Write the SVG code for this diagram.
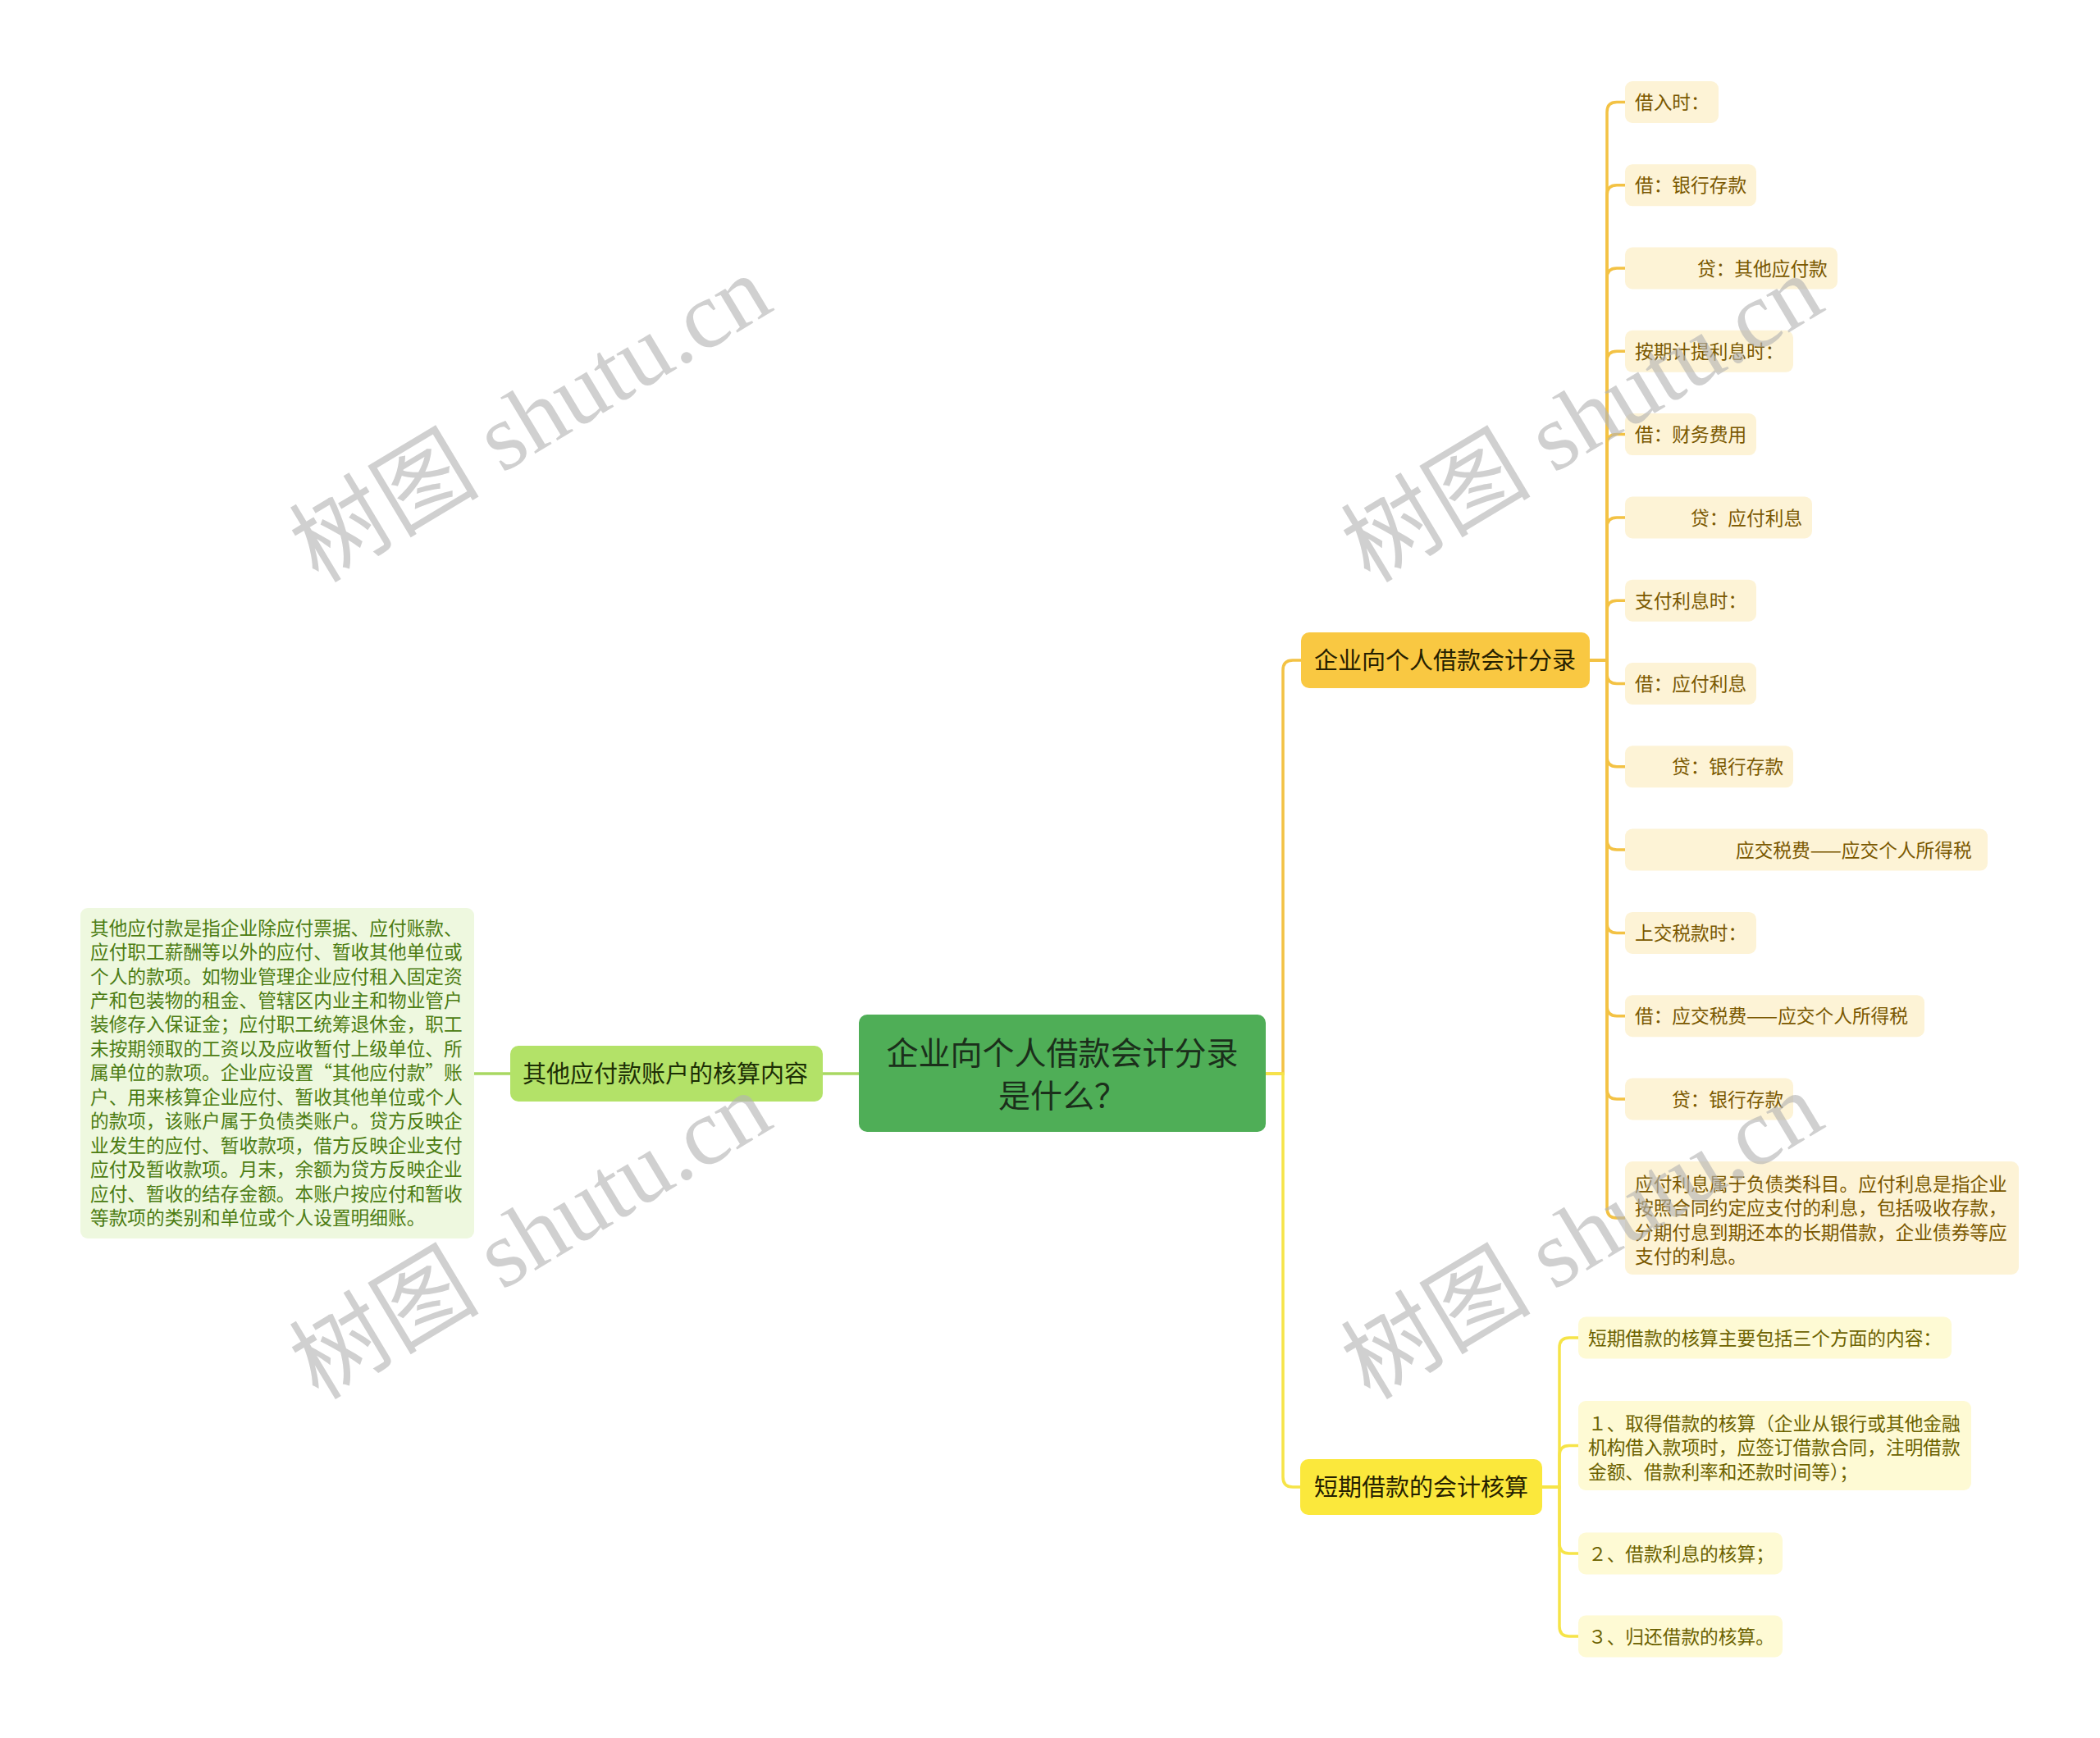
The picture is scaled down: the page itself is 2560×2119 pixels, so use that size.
<svg xmlns="http://www.w3.org/2000/svg" width="2560" height="2119" viewBox="0 0 2560 2119">
<style>
text{font-family:"Noto Sans CJK SC","Noto Sans",sans-serif;}
.root{fill:#4fae57;}
.b1{fill:#f9c842;}
.b2{fill:#fbe83c;}
.bl{fill:#b3e268;}
.c1{fill:#fdf3d6;}
.c2{fill:#fefad4;}
.cl{fill:#eef8df;}
.troot{font-size:39px;fill:#1b2f1b;text-anchor:middle;}
.tb{font-size:29px;fill:#252000;}
.tbl{font-size:29px;fill:#1c2e05;}
.t1{font-size:22.7px;fill:#7a5800;}
.t2{font-size:22.7px;fill:#6c6200;}
.tl{font-size:22.7px;fill:#4c7c12;}
.k1{fill:none;stroke:#f3c244;stroke-width:3.5;}
.k2{fill:none;stroke:#f6e448;stroke-width:3.5;}
.kl{fill:none;stroke:#a8d862;stroke-width:3.5;}
.wm{font-family:"Liberation Serif","Noto Sans CJK SC",serif;font-size:116px;fill:#b4b4b4;opacity:0.62;}
</style>
<rect width="2560" height="2119" fill="#ffffff"/>
<g id="connectors">
<path class="kl" d="M1047,1309 H1003"/>
<path class="kl" d="M622,1309 H578"/>
<path class="k1" d="M1543,1309 H1564 V817 Q1564,805 1576,805 H1586"/>
<path class="k2" d="M1543,1309 H1564 V1801 Q1564,1813 1576,1813 H1585"/>
<path class="k1" d="M1938,805 H1959 V136.5 Q1959,124.5 1971,124.5 H1981"/>
<path class="k1" d="M1938,805 H1959 V237.8 Q1959,225.8 1971,225.8 H1981"/>
<path class="k1" d="M1938,805 H1959 V339 Q1959,327 1971,327 H1981"/>
<path class="k1" d="M1938,805 H1959 V440.3 Q1959,428.3 1971,428.3 H1981"/>
<path class="k1" d="M1938,805 H1959 V541.6 Q1959,529.6 1971,529.6 H1981"/>
<path class="k1" d="M1938,805 H1959 V642.9 Q1959,630.9 1971,630.9 H1981"/>
<path class="k1" d="M1938,805 H1959 V744.2 Q1959,732.2 1971,732.2 H1981"/>
<path class="k1" d="M1938,805 H1959 V821.5 Q1959,833.5 1971,833.5 H1981"/>
<path class="k1" d="M1938,805 H1959 V922.8 Q1959,934.8 1971,934.8 H1981"/>
<path class="k1" d="M1938,805 H1959 V1024.1 Q1959,1036.1 1971,1036.1 H1981"/>
<path class="k1" d="M1938,805 H1959 V1125.4 Q1959,1137.4 1971,1137.4 H1981"/>
<path class="k1" d="M1938,805 H1959 V1226.7 Q1959,1238.7 1971,1238.7 H1981"/>
<path class="k1" d="M1938,805 H1959 V1328 Q1959,1340 1971,1340 H1981"/>
<path class="k1" d="M1938,805 H1959 V1473 Q1959,1485 1971,1485 H1981"/>
<path class="k2" d="M1880,1813 H1901 V1643 Q1901,1631 1913,1631 H1924"/>
<path class="k2" d="M1880,1813 H1901 V1774.5 Q1901,1762.5 1913,1762.5 H1924"/>
<path class="k2" d="M1880,1813 H1901 V1882 Q1901,1894 1913,1894 H1924"/>
<path class="k2" d="M1880,1813 H1901 V1983 Q1901,1995 1913,1995 H1924"/>
</g>
<g id="root">
<rect class="root" x="1047" y="1237" width="496" height="143" rx="10"/>
<text class="troot" x="1295" y="1298">企业向个人借款会计分录</text>
<text class="troot" x="1295" y="1350">是什么？</text>
</g>
<g id="branch-left">
<rect class="bl" x="622" y="1275" width="381" height="68" rx="10"/>
<text class="tbl" x="637" y="1320">其他应付款账户的核算内容</text>
</g>
<g id="branch-left-text">
<rect class="cl" x="98" y="1107" width="480" height="403" rx="9"/>
<text class="tl" x="110" y="1139.6">其他应付款是指企业除应付票据、应付账款、</text>
<text class="tl" x="110" y="1169">应付职工薪酬等以外的应付、暂收其他单位或</text>
<text class="tl" x="110" y="1198.5">个人的款项。如物业管理企业应付租入固定资</text>
<text class="tl" x="110" y="1228">产和包装物的租金、管辖区内业主和物业管户</text>
<text class="tl" x="110" y="1257.4">装修存入保证金；应付职工统筹退休金，职工</text>
<text class="tl" x="110" y="1286.9">未按期领取的工资以及应收暂付上级单位、所</text>
<text class="tl" x="110" y="1316.3">属单位的款项。企业应设置“其他应付款”账</text>
<text class="tl" x="110" y="1345.8">户、用来核算企业应付、暂收其他单位或个人</text>
<text class="tl" x="110" y="1375.2">的款项，该账户属于负债类账户。贷方反映企</text>
<text class="tl" x="110" y="1404.7">业发生的应付、暂收款项，借方反映企业支付</text>
<text class="tl" x="110" y="1434.1">应付及暂收款项。月末，余额为贷方反映企业</text>
<text class="tl" x="110" y="1463.6">应付、暂收的结存金额。本账户按应付和暂收</text>
<text class="tl" x="110" y="1493">等款项的类别和单位或个人设置明细账。</text>
</g>
<g id="branch-1">
<rect class="b1" x="1586" y="771" width="352" height="68" rx="10"/>
<text class="tb" x="1602" y="816">企业向个人借款会计分录</text>
</g>
<g id="b1-c1"><rect class="c1" x="1981" y="99" width="114" height="51" rx="9"/><text class="t1" x="1993" y="133.1">借入时：</text></g>
<g id="b1-c2"><rect class="c1" x="1981" y="200.3" width="160" height="51" rx="9"/><text class="t1" x="1993" y="234.4">借：银行存款</text></g>
<g id="b1-c3"><rect class="c1" x="1981" y="301.5" width="259" height="51" rx="9"/><text class="t1" x="2069" y="335.6">贷：其他应付款</text></g>
<g id="b1-c4"><rect class="c1" x="1981" y="402.8" width="205" height="51" rx="9"/><text class="t1" x="1993" y="436.9">按期计提利息时：</text></g>
<g id="b1-c5"><rect class="c1" x="1981" y="504.1" width="160" height="51" rx="9"/><text class="t1" x="1993" y="538.2">借：财务费用</text></g>
<g id="b1-c6"><rect class="c1" x="1981" y="605.4" width="228" height="51" rx="9"/><text class="t1" x="2061" y="639.5">贷：应付利息</text></g>
<g id="b1-c7"><rect class="c1" x="1981" y="706.7" width="160" height="51" rx="9"/><text class="t1" x="1993" y="740.8">支付利息时：</text></g>
<g id="b1-c8"><rect class="c1" x="1981" y="808" width="160" height="51" rx="9"/><text class="t1" x="1993" y="842.1">借：应付利息</text></g>
<g id="b1-c9"><rect class="c1" x="1981" y="909.3" width="205" height="51" rx="9"/><text class="t1" x="2038" y="943.4">贷：银行存款</text></g>
<g id="b1-c10"><rect class="c1" x="1981" y="1010.6" width="442" height="51" rx="9"/><text class="t1" x="2116" y="1044.7">应交税费——应交个人所得税</text></g>
<g id="b1-c11"><rect class="c1" x="1981" y="1111.9" width="160" height="51" rx="9"/><text class="t1" x="1993" y="1146">上交税款时：</text></g>
<g id="b1-c12"><rect class="c1" x="1981" y="1213.2" width="365" height="51" rx="9"/><text class="t1" x="1993" y="1247.3">借：应交税费——应交个人所得税</text></g>
<g id="b1-c13"><rect class="c1" x="1981" y="1314.5" width="205" height="51" rx="9"/><text class="t1" x="2038" y="1348.6">贷：银行存款</text></g>
<g id="b1-c14">
<rect class="c1" x="1981" y="1416" width="480" height="138" rx="9"/>
<text class="t1" x="1993" y="1451.6">应付利息属于负债类科目。应付利息是指企业</text>
<text class="t1" x="1993" y="1481.2">按照合同约定应支付的利息，包括吸收存款，</text>
<text class="t1" x="1993" y="1510.8">分期付息到期还本的长期借款，企业债券等应</text>
<text class="t1" x="1993" y="1540.4">支付的利息。</text>
</g>
<g id="branch-2">
<rect class="b2" x="1585" y="1779" width="295" height="68" rx="10"/>
<text class="tb" x="1602" y="1824">短期借款的会计核算</text>
</g>
<g id="b2-c1"><rect class="c2" x="1924" y="1605.5" width="455" height="51" rx="9"/><text class="t2" x="1936" y="1639.6">短期借款的核算主要包括三个方面的内容：</text></g>
<g id="b2-c2">
<rect class="c2" x="1924" y="1708" width="479" height="109" rx="9"/>
<text class="t2" x="1936" y="1743.6">１、取得借款的核算（企业从银行或其他金融</text>
<text class="t2" x="1936" y="1773.1">机构借入款项时，应签订借款合同，注明借款</text>
<text class="t2" x="1936" y="1802.6">金额、借款利率和还款时间等）；</text>
</g>
<g id="b2-c3"><rect class="c2" x="1924" y="1868.5" width="249" height="51" rx="9"/><text class="t2" x="1936" y="1902.6">２、借款利息的核算；</text></g>
<g id="b2-c4"><rect class="c2" x="1924" y="1969.5" width="249" height="51" rx="9"/><text class="t2" x="1936" y="2003.6">３、归还借款的核算。</text></g>
<g id="watermark">
<text class="wm" transform="translate(388,712) rotate(-31)">树图 shutu.cn</text>
<text class="wm" transform="translate(1670,712) rotate(-31)">树图 shutu.cn</text>
<text class="wm" transform="translate(388,1708) rotate(-31)">树图 shutu.cn</text>
<text class="wm" transform="translate(1670,1708) rotate(-31)">树图 shutu.cn</text>
</g>
</svg>
